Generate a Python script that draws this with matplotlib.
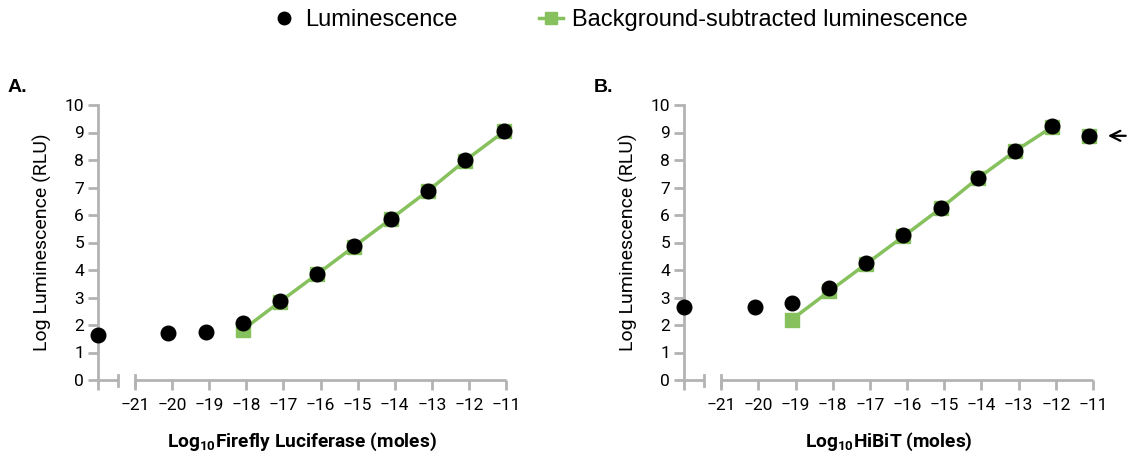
import matplotlib
matplotlib.use("Agg")
import matplotlib.pyplot as plt
from matplotlib.lines import Line2D

plt.rcParams['font.family'] = ['Roboto', 'DejaVu Sans']
plt.rcParams['mathtext.fontset'] = 'custom'
plt.rcParams['mathtext.rm'] = 'Roboto'
plt.rcParams['mathtext.bf'] = 'Roboto:bold'
plt.rcParams['mathtext.default'] = 'regular'
plt.rcParams['axes.unicode_minus'] = True

GREEN = '#86c15d'
GRAY = '#b3b3b3'

# Panel A: Firefly luciferase
a_x = [-22, -20.1, -19.1, -18.1, -17.1, -16.1, -15.1, -14.1, -13.1, -12.1, -11.05]
a_lum = [1.64, 1.70, 1.74, 2.07, 2.88, 3.87, 4.86, 5.87, 6.89, 7.99, 9.04]
a_bg_x = [-18.1, -17.1, -16.1, -15.1, -14.1, -13.1, -12.1, -11.05]
a_bg = [1.82, 2.84, 3.84, 4.85, 5.86, 6.88, 7.98, 9.04]

# Panel B: HiBiT
b_x = [-22, -20.1, -19.1, -18.1, -17.1, -16.1, -15.1, -14.1, -13.1, -12.1, -11.1]
b_lum = [2.67, 2.64, 2.80, 3.34, 4.27, 5.26, 6.27, 7.35, 8.33, 9.22, 8.88]
b_bg_x = [-19.1, -18.1, -17.1, -16.1, -15.1, -14.1, -13.1, -12.1]
b_bg = [2.20, 3.22, 4.22, 5.22, 6.24, 7.33, 8.32, 9.20]
b_bg_extra_x = [-11.1]
b_bg_extra = [8.88]

xticks = [-22, -21, -20, -19, -18, -17, -16, -15, -14, -13, -12, -11]
xticklabels = [''] + ['\u2212%d' % (-v) for v in xticks[1:]]
yticks = list(range(0, 11))

W, H = 1133, 457
fig = plt.figure(figsize=(W / 100, H / 100), dpi=100)


def make_ax(left_px, right_px, xlabel, panel, panel_x):
    ax = fig.add_axes([left_px / W, (H - 380) / H, (right_px - left_px) / W, 275 / H])
    ax.set_xlim(-22, -11)
    ax.set_ylim(0, 10)
    for s in ['top', 'right', 'bottom']:
        ax.spines[s].set_visible(False)
    ax.spines['left'].set_color(GRAY)
    ax.spines['left'].set_linewidth(2)
    # broken x axis
    ax.plot([-22, -21.45], [0, 0], color=GRAY, lw=2, clip_on=False, solid_capstyle='butt', zorder=1)
    ax.plot([-21, -11], [0, 0], color=GRAY, lw=2, clip_on=False, solid_capstyle='butt', zorder=1)
    for bx in [-21.45, -21]:
        ax.plot([bx, bx], [-0.2, 0.2], color=GRAY, lw=2, clip_on=False, zorder=1)
    ax.set_xticks(xticks)
    ax.set_xticklabels(xticklabels)
    ax.set_yticks(yticks)
    ax.tick_params(axis='both', direction='out', length=7, width=2, color=GRAY,
                   labelsize=12.5, labelcolor='black')
    ax.tick_params(axis='x', pad=6)
    ax.tick_params(axis='y', pad=3)
    ax.set_ylabel('Log Luminescence (RLU)', fontsize=14, labelpad=9)
    ax.set_xlabel(xlabel, fontsize=13.8, fontweight='bold', labelpad=13)
    fig.text(panel_x / W, (H - 88) / H, panel, fontsize=14, fontweight='bold',
             family=['Liberation Sans'], va='center', ha='left')
    return ax


axA = make_ax(98, 506, r'Log$_{\mathbf{10}}$Firefly Luciferase (moles)', 'A.', 8)
axA.plot(a_bg_x, a_bg, color=GREEN, lw=2.5, marker='s', ms=10, mec=GREEN, mfc=GREEN,
         clip_on=False, zorder=3)
axA.plot(a_x, a_lum, ls='none', marker='o', ms=10.5, color='black', clip_on=False, zorder=4)

axB = make_ax(684, 1093, r'Log$_{\mathbf{10}}$HiBiT (moles)', 'B.', 594)
axB.plot(b_bg_x, b_bg, color=GREEN, lw=2.5, marker='s', ms=10, mec=GREEN, mfc=GREEN,
         clip_on=False, zorder=3)
axB.plot(b_bg_extra_x, b_bg_extra, ls='none', marker='s', ms=10, color=GREEN,
         clip_on=False, zorder=3)
axB.plot(b_x, b_lum, ls='none', marker='o', ms=10.5, color='black', clip_on=False, zorder=4)
axB.annotate('', xy=(-10.6, b_lum[-1]), xytext=(-10.12, b_lum[-1]),
             arrowprops=dict(arrowstyle='->', color='black', lw=1.6, mutation_scale=18,
                             shrinkA=0, shrinkB=0),
             annotation_clip=False)

handles = [
    Line2D([], [], ls='none', marker='o', ms=9, color='black'),
    Line2D([], [], color=GREEN, lw=2.5, marker='s', ms=8, mec=GREEN, mfc=GREEN),
]
fig.legend(handles, ['Luminescence', 'Background-subtracted luminescence'],
           loc='center', bbox_to_anchor=(620 / W, (H - 20) / H), ncol=2, frameon=False,
           prop={'family': 'Liberation Sans', 'size': 17}, handlelength=1.0,
           columnspacing=3.45, handletextpad=0.4)

fig.savefig('out.png', dpi=100)
